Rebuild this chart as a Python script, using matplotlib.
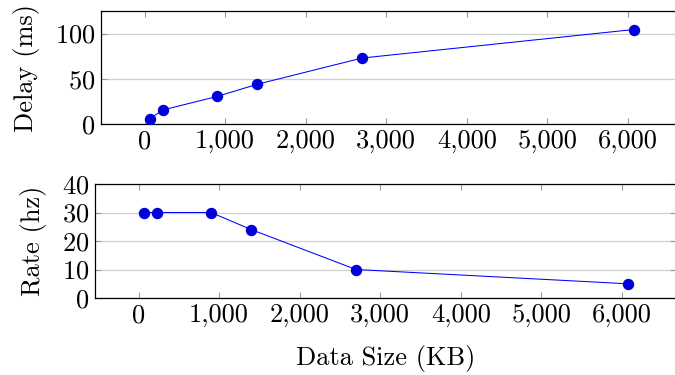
import matplotlib
import matplotlib.pyplot as plt
from matplotlib.ticker import FuncFormatter

matplotlib.use("Agg")

plt.rcParams["font.family"] = ["cmr10", "DejaVu Serif"]
plt.rcParams["mathtext.fontset"] = "cm"
plt.rcParams["axes.formatter.use_mathtext"] = True

data_size_kb = [62, 225, 900, 1400, 2700, 6070]
delay_ms = [5.5, 15.5, 30.5, 44, 73, 104.5]
rate_hz = [30, 30, 30, 24, 10, 5]

x_ticks = [0, 1000, 2000, 3000, 4000, 5000, 6000]
delay_ticks = [0, 50, 100]
rate_ticks = [0, 10, 20, 30, 40]

figure = plt.figure(figsize=(6.75, 3.75), dpi=100)
top_axis = figure.add_axes([0.1496, 0.6693, 0.8607, 0.3013])
bottom_axis = figure.add_axes([0.1407, 0.2053, 0.8607, 0.304])

comma_format = FuncFormatter(lambda value, _pos: f"{value:,.0f}")

panels = [
    (top_axis, delay_ms, delay_ticks, (0, 125), "Delay (ms)"),
    (bottom_axis, rate_hz, rate_ticks, (0, 40), "Rate (hz)"),
]
for axis, values, y_ticks, y_limits, y_label in panels:
    axis.plot(data_size_kb, values, color="#0000ff", linewidth=0.75,
              marker="o", markersize=7.2, markerfacecolor="#0000d8",
              markeredgecolor="#0000d8", zorder=3)
    axis.set_xlim(-541, 6671)
    axis.set_ylim(*y_limits)
    axis.set_xticks(x_ticks)
    axis.set_yticks(y_ticks)
    axis.xaxis.set_major_formatter(comma_format)
    axis.yaxis.grid(True, color="#cfcfcf", linewidth=0.9)
    axis.set_axisbelow(True)
    axis.tick_params(direction="in", length=4, width=0.8, color="#999999",
                     top=True, right=True, labelsize=19, pad=4)
    for spine in axis.spines.values():
        spine.set_linewidth(0.9)
    axis.set_ylabel(y_label, fontsize=19, labelpad=11)

bottom_axis.set_xlabel("Data Size (KB)", fontsize=19, labelpad=13)

figure.savefig("out.png", dpi=100)
plt.close(figure)
